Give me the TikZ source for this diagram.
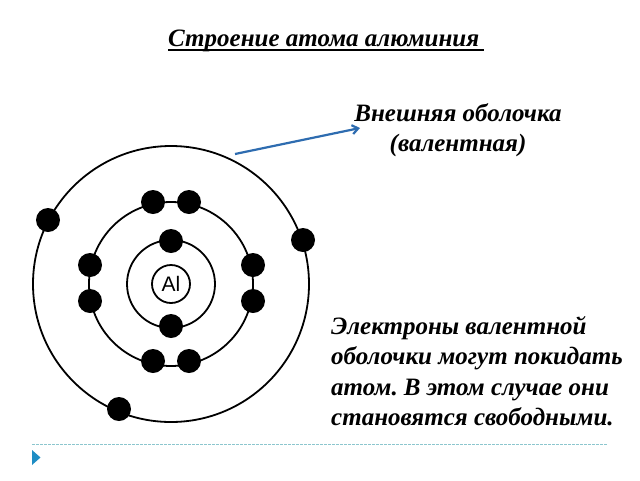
\documentclass[tikz,border=0pt]{standalone}
\usepackage{fontspec}
\setmainfont{Liberation Serif}
\setsansfont{Liberation Sans}
\frenchspacing
\usetikzlibrary{arrows.meta}
\definecolor{arrowblue}{HTML}{2E6CB0}
\definecolor{tealdash}{HTML}{8CC6CE}
\definecolor{triblue}{HTML}{1F8DC4}
\tikzset{
  x=1pt,y=-1pt,
  orbit/.style={circle,draw=black,line width=1.8pt,inner sep=0pt,fill=none},
  electron/.style={circle,fill=black,draw=none,inner sep=0pt,minimum size=24pt},
  label/.style={font=\fontsize{25}{30}\selectfont\bfseries\itshape,align=center,inner sep=0pt},
  para/.style={font=\fontsize{25}{30.5}\selectfont\bfseries\itshape,align=left,inner sep=0pt},
}
\begin{document}
\begin{tikzpicture}
\useasboundingbox (0,0) rectangle (640,480);
\fill[white] (0,0) rectangle (640,480);
\node[orbit,minimum size=276pt] (outer) at (171,284) {};
\node[orbit,minimum size=164pt] (middle) at (171,284) {};
\node[orbit,minimum size=88pt] (inner) at (171,284) {};
\node[orbit,minimum size=38pt,font=\sffamily\fontsize{21}{21}\selectfont] (nucleus) at (171,284) {Al};
\node[electron] (e1) at (171,241) {};
\node[electron] (e2) at (171,326) {};
\node[electron] (e3) at (153,202) {};
\node[electron] (e4) at (189,202) {};
\node[electron] (e5) at (153,361) {};
\node[electron] (e6) at (189,361) {};
\node[electron] (e7) at (90,265) {};
\node[electron] (e8) at (90,301) {};
\node[electron] (e9) at (253,265) {};
\node[electron] (e10) at (253,301) {};
\node[electron] (e11) at (48,220) {};
\node[electron] (e12) at (303,240) {};
\node[electron] (e13) at (119,409) {};
\node[font=\fontsize{25}{30}\selectfont\bfseries\itshape,inner sep=0pt,anchor=base west] (title) at (168,46) {Строение атома алюминия};
\draw[line width=1.3pt] (168,50) -- (484,50);
\node[label,anchor=base] (outerlabel) at (458,151.5) {Внешняя оболочка\\(валентная)};
\node[para,anchor=north west] (text) at (331,316) {Электроны валентной\\оболочки могут покидать\\атом. В этом случае они\\становятся свободными.};
\coordinate (arrowstart) at (235,154);
\coordinate (arrowend) at (360,128);
\draw[arrowblue,line width=2.2pt,-{Straight Barb[length=6pt,width=9pt]}] (arrowstart) -- (arrowend);
\coordinate (dashstart) at (32,444);
\coordinate (dashend) at (608,444);
\draw[tealdash,line width=0.9pt,dash pattern=on 2.5pt off 1.5pt] (dashstart) -- (dashend);
\fill[triblue] (32,450) -- (40.5,457.5) -- (32,465) -- cycle;
\end{tikzpicture}
\end{document}
